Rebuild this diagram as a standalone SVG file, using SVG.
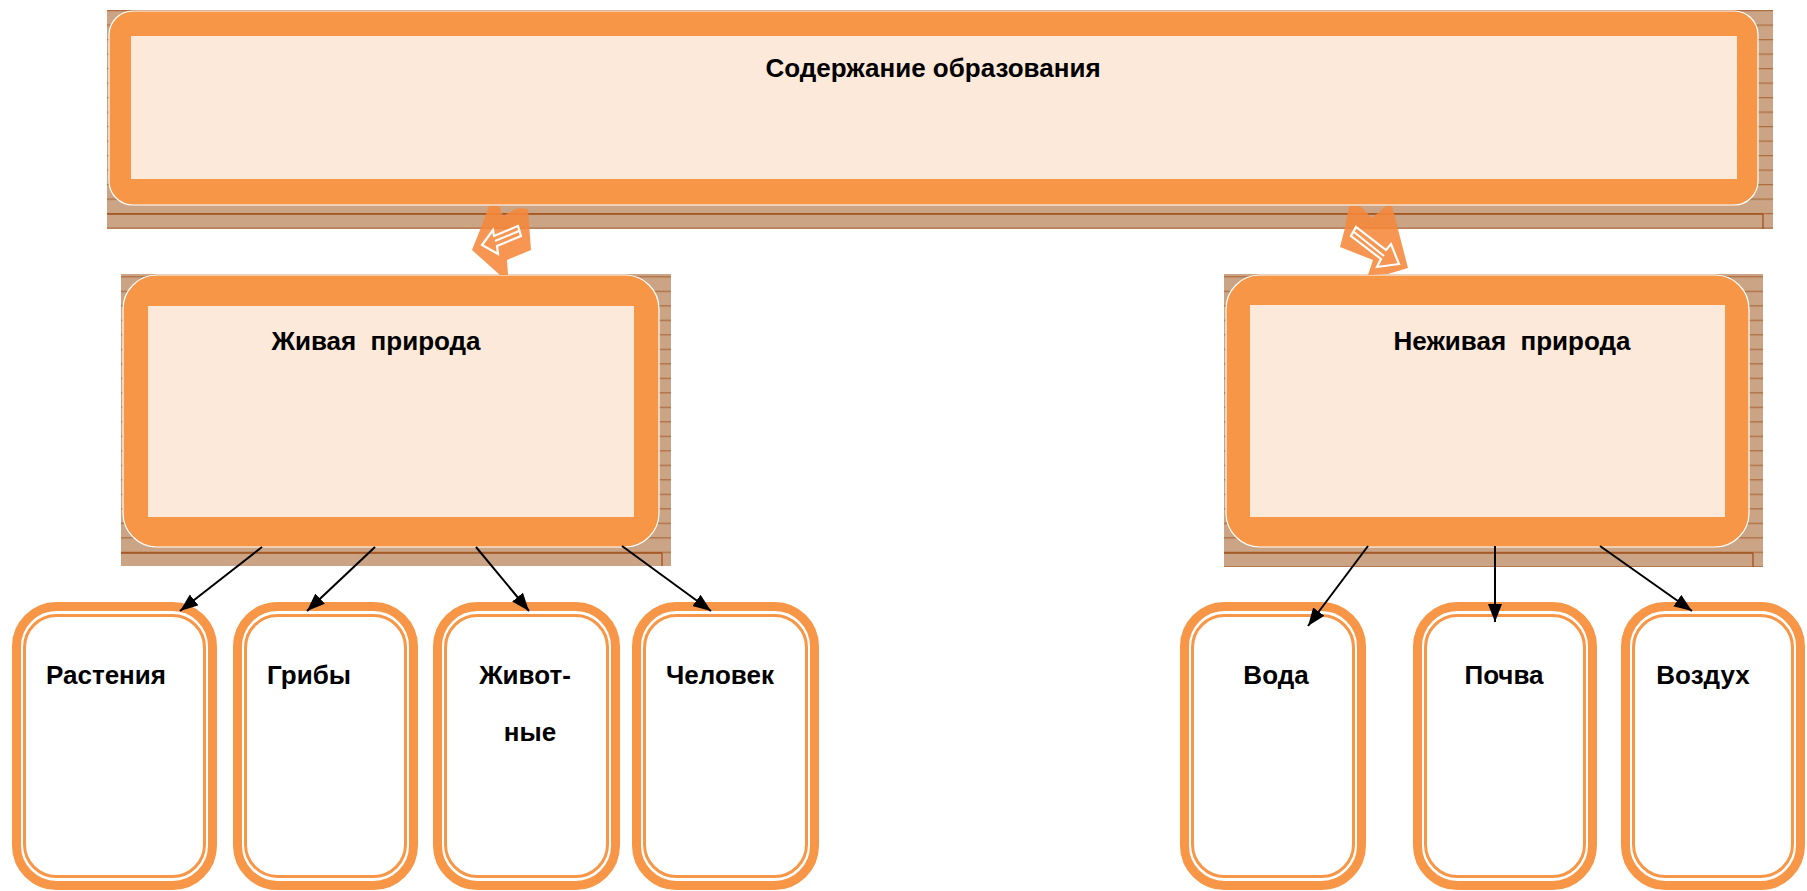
<svg xmlns="http://www.w3.org/2000/svg" width="1807" height="891" viewBox="0 0 1807 891">
<style>
.t{font-family:"Liberation Sans",Arial,sans-serif;font-weight:bold;font-size:26px;fill:#000}
.sh{opacity:0.85}
.ob{fill:#f79646;stroke:#fff;stroke-width:1.2}
.cr{fill:#fde9d9}
.r1{fill:none;stroke:#f79646;stroke-width:9}
.r2{fill:none;stroke:#f79646;stroke-width:3}
.cn{stroke:#000;stroke-width:2;fill:none;marker-end:url(#ah)}
.ba{fill:#f5883a;opacity:0.88}
.wa{fill:none;stroke:#fff;stroke-width:2.2;stroke-linejoin:miter}
.wl{stroke:#fff;stroke-width:2}
.dl{stroke:#a0521e;stroke-width:1.3}
</style>
<defs>
<pattern id="p1" patternUnits="userSpaceOnUse" x="0" y="10" width="20" height="14.5">
<rect width="20" height="14.5" fill="#c2946f"/>
<line x1="0" y1="0.6" x2="20" y2="0.6" stroke="#a0521e" stroke-width="1.3"/>
</pattern>
<pattern id="p2" patternUnits="userSpaceOnUse" x="0" y="0.7" width="20" height="14.5">
<rect width="20" height="14.5" fill="#c2946f"/>
<line x1="0" y1="0.6" x2="20" y2="0.6" stroke="#a0521e" stroke-width="1.3"/>
</pattern>
<marker id="ah" markerUnits="userSpaceOnUse" markerWidth="20" markerHeight="16" refX="18" refY="7" orient="auto">
<path d="M0,0 L18,7 L0,14 z" fill="#000"/>
</marker>
</defs>

<rect width="1807" height="891" fill="#fff"/>

<g id="n-rasteniya">
<rect class="r1" x="16.5" y="606.5" width="196" height="279" rx="40"/>
<rect class="r2" x="24.5" y="615.5" width="180" height="261" rx="32"/>
<text class="t" x="106" y="684" text-anchor="middle">Растения</text>
</g>
<g id="n-griby">
<rect class="r1" x="237.5" y="606.5" width="176" height="279" rx="40"/>
<rect class="r2" x="245.5" y="615.5" width="160" height="261" rx="32"/>
<text class="t" x="309" y="684" text-anchor="middle">Грибы</text>
</g>
<g id="n-zhivotnye">
<rect class="r1" x="437.5" y="606.5" width="178" height="279" rx="40"/>
<rect class="r2" x="445.5" y="615.5" width="162" height="261" rx="32"/>
<text class="t" x="525" y="684" text-anchor="middle">Живот-</text>
<text class="t" x="530" y="741" text-anchor="middle">ные</text>
</g>
<g id="n-chelovek">
<rect class="r1" x="636.5" y="606.5" width="178" height="279" rx="40"/>
<rect class="r2" x="644.5" y="615.5" width="162" height="261" rx="32"/>
<text class="t" x="720" y="684" text-anchor="middle">Человек</text>
</g>
<g id="n-voda">
<rect class="r1" x="1184.5" y="606.5" width="177" height="279" rx="40"/>
<rect class="r2" x="1192.5" y="615.5" width="161" height="261" rx="32"/>
<text class="t" x="1276" y="684" text-anchor="middle">Вода</text>
</g>
<g id="n-pochva">
<rect class="r1" x="1417.5" y="606.5" width="175" height="279" rx="40"/>
<rect class="r2" x="1425.5" y="615.5" width="159" height="261" rx="32"/>
<text class="t" x="1504" y="684" text-anchor="middle">Почва</text>
</g>
<g id="n-vozduh">
<rect class="r1" x="1625.5" y="606.5" width="175" height="279" rx="40"/>
<rect class="r2" x="1633.5" y="615.5" width="159" height="261" rx="32"/>
<text class="t" x="1703" y="684" text-anchor="middle">Воздух</text>
</g>

<g id="n-soderzhanie">
<rect class="sh" x="107" y="10" width="1666" height="219" fill="url(#p1)"/>
<line class="dl" x1="107" y1="214" x2="1763" y2="214"/>
<line class="dl" x1="1763" y1="214" x2="1763" y2="229"/>
<rect class="ob" x="109" y="11" width="1649" height="194" rx="24"/>
<rect class="cr" x="131" y="36" width="1606" height="143"/>
<text class="t" x="933" y="77" text-anchor="middle">Содержание образования</text>
</g>

<g id="n-zhivaya">
<rect class="sh" x="121" y="274" width="550" height="292" fill="url(#p2)"/>
<line class="dl" x1="121" y1="553" x2="662" y2="553"/>
<line class="dl" x1="662" y1="553" x2="662" y2="566"/>
<rect class="ob" x="123" y="275" width="536" height="272" rx="34"/>
<rect class="cr" x="148" y="306" width="486" height="211"/>
<text class="t" x="376" y="350" text-anchor="middle" xml:space="preserve">Живая  природа</text>
</g>

<g id="n-nezhivaya">
<rect class="sh" x="1224" y="274" width="539" height="293" fill="url(#p2)"/>
<line class="dl" x1="1224" y1="553" x2="1753" y2="553"/>
<line class="dl" x1="1753" y1="553" x2="1753" y2="567"/>
<rect class="ob" x="1226" y="275" width="523" height="272" rx="34"/>
<rect class="cr" x="1250" y="305" width="475" height="212"/>
<text class="t" x="1512" y="350" text-anchor="middle" xml:space="preserve">Неживая  природа</text>
</g>

<g id="connectors">
<line class="cn" x1="262" y1="547" x2="180" y2="611"/>
<line class="cn" x1="375" y1="547" x2="307" y2="611"/>
<line class="cn" x1="476" y1="547" x2="529" y2="611"/>
<line class="cn" x1="622" y1="546" x2="711" y2="611"/>
<line class="cn" x1="1368" y1="546" x2="1308" y2="626"/>
<line class="cn" x1="1495" y1="546" x2="1495" y2="622"/>
<line class="cn" x1="1600" y1="546" x2="1692" y2="611"/>
</g>

<g id="block-arrows">
<polygon class="ba" points="489,206 499,206 503,216 518,208 528,209 531,250 507,260 508,275 500,275 472,250 480,230"/>
<polygon class="wa" points="482,245 493,230 494,236 518,226 521,236 497,246 498,254"/>
<line class="wl" x1="495" y1="241" x2="519" y2="231"/>
<polygon class="ba" points="1349,206 1360,206 1372,218 1386,206 1392,206 1408,268 1388,274 1368,275 1373,260 1340,247 1345,228"/>
<polygon class="wa" points="1399,264 1377,267 1381,259 1351,236 1356,227 1386,250 1391,244"/>
<line class="wl" x1="1354" y1="232" x2="1384" y2="256"/>
</g>
</svg>
